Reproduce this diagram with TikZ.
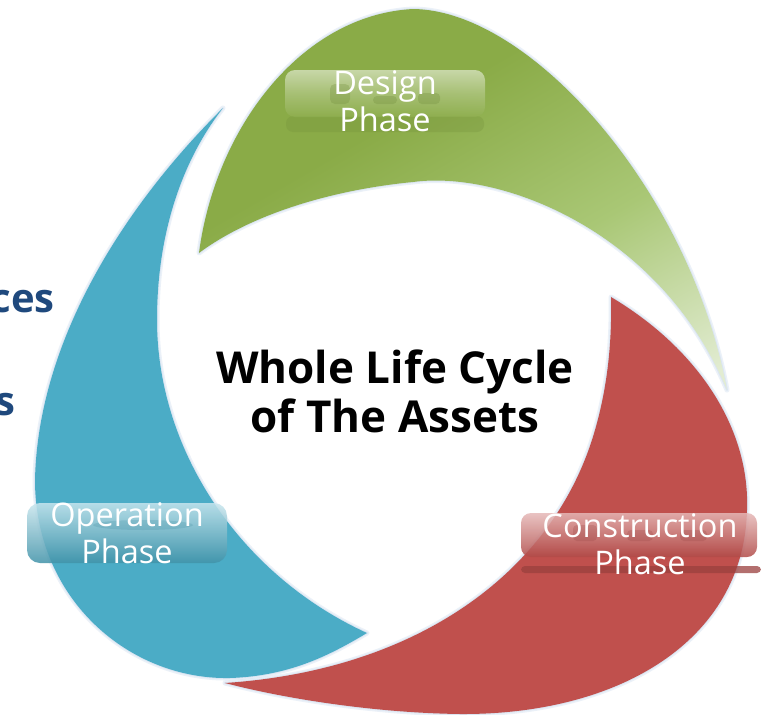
\documentclass[tikz,border=0pt]{standalone}
\usepackage{fontspec}
\setmainfont{Open Sans}
\definecolor{gA}{HTML}{8AAB47}
\definecolor{gM}{HTML}{A9C775}
\definecolor{gB}{HTML}{E2ECD2}
\definecolor{rA}{HTML}{C0504D}
\definecolor{bA}{HTML}{4BACC6}
\definecolor{glow}{HTML}{D3E0F0}
\definecolor{navy}{HTML}{1F497D}
\pgfdeclareverticalshading{greenfade}{100bp}{color(0bp)=(gB); color(18bp)=(gB); color(40bp)=(gM); color(62bp)=(gA); color(100bp)=(gA)}
\begin{document}
\begin{tikzpicture}[x=1pt,y=-1pt,
  glowline/.style={draw=glow, line width=5pt, line join=round, draw opacity=0.45},
  glowthin/.style={draw=glow, line width=2pt, line join=round, draw opacity=0.6},
  phase/.style={text=white, align=center, font=\fontsize{32.5}{37.5}\selectfont, inner sep=0pt},
  title/.style={text=black, align=center, font=\bfseries\fontsize{44}{49}\selectfont, inner sep=0pt},
  sidetext/.style={text=navy, font=\bfseries\fontsize{40}{48}\selectfont, inner sep=0pt, anchor=base east}]
\useasboundingbox (0,0) rectangle (761,715);
\fill[white] (0,0) rectangle (761,715);

% ---------- green blade (Design) ----------
\def\greenpath{(199,253) .. controls (215,130) and (300,15) .. (413,9)
  .. controls (530,10) and (690,190) .. (727,390)
  .. controls (660,230) and (500,170) .. (413,182)
  .. controls (330,190) and (250,215) .. (199,253) -- cycle}
\draw[glowline] \greenpath;
\draw[glowthin] \greenpath;
\shade[shading=greenfade, shading angle=30] \greenpath;

% ---------- red blade (Construction) ----------
\def\redpath{(611,297) .. controls (700,350) and (750,430) .. (747,510)
  .. controls (744,640) and (620,715) .. (460,714)
  .. controls (380,713) and (290,700) .. (225,683)
  .. controls (420,670) and (555,570) .. (595,430)
  .. controls (608,385) and (612,340) .. (611,297) -- cycle}
\draw[glowline] \redpath;
\draw[glowthin] \redpath;
\fill[rA] \redpath;

% ---------- blue blade (Operation) ----------
\def\bluepath{(223,108) .. controls (125,205) and (38,340) .. (35,480)
  .. controls (35,600) and (130,680) .. (230,678)
  .. controls (290,676) and (330,655) .. (367,633)
  .. controls (240,575) and (157,450) .. (157,320)
  .. controls (157,220) and (190,150) .. (223,108) -- cycle}
\draw[glowline] \bluepath;
\draw[glowthin] \bluepath;
\fill[bA] \bluepath;

% ---------- glossy label plates ----------
% Design
\fill[gA!85!black, fill opacity=0.3, rounded corners=7pt] (286,116) rectangle (484,132);
\shade[rounded corners=10pt, top color=gA!25!white, bottom color=gA!95!white, middle color=gA!65!white, fill opacity=0.7] (285,70) rectangle (485,117);
\fill[gA!80!black, fill opacity=0.28, rounded corners=5pt] (330,84) rectangle (350,104);
\fill[gA!80!black, fill opacity=0.28, rounded corners=4pt] (373,96) rectangle (397,104);
\fill[gA!80!black, fill opacity=0.28, rounded corners=4pt] (418,93) rectangle (440,104);
% Operation
\shade[rounded corners=13pt, top color=bA!30!white, middle color=bA!92!white, bottom color=bA!85!black, fill opacity=0.85] (27,503) rectangle (227,563);
\fill[bA!80!black, fill opacity=0.22] (143,525) ellipse (50pt and 5pt);
% Construction
\fill[rA!80!black, fill opacity=0.75, rounded corners=4pt] (521,566) rectangle (761,573);
\shade[rounded corners=10pt, top color=rA!40!white, middle color=rA!90!white, bottom color=rA!92!black, fill opacity=0.85] (521,513) rectangle (757,557);
\fill[rA!75!black, fill opacity=0.22, rounded corners=4pt] (573,525) rectangle (597,541);
\fill[rA!75!black, fill opacity=0.22, rounded corners=4pt] (627,530) rectangle (653,541);
\fill[rA!75!black, fill opacity=0.22, rounded corners=4pt] (680,530) rectangle (707,541);

% ---------- texts ----------
\node[phase] (design) at (385,101) {Design\\Phase};
\node[phase] (operation) at (127,533) {Operation\\Phase};
\node[phase] (construction) at (640,544) {Construction\\Phase};
\node[title] (wlc) at (395,391) {Whole Life Cycle\\of The Assets};
\node[sidetext] (ces) at (55,312) {ces};
\node[sidetext] (s) at (16,415) {s};
\end{tikzpicture}
\end{document}
